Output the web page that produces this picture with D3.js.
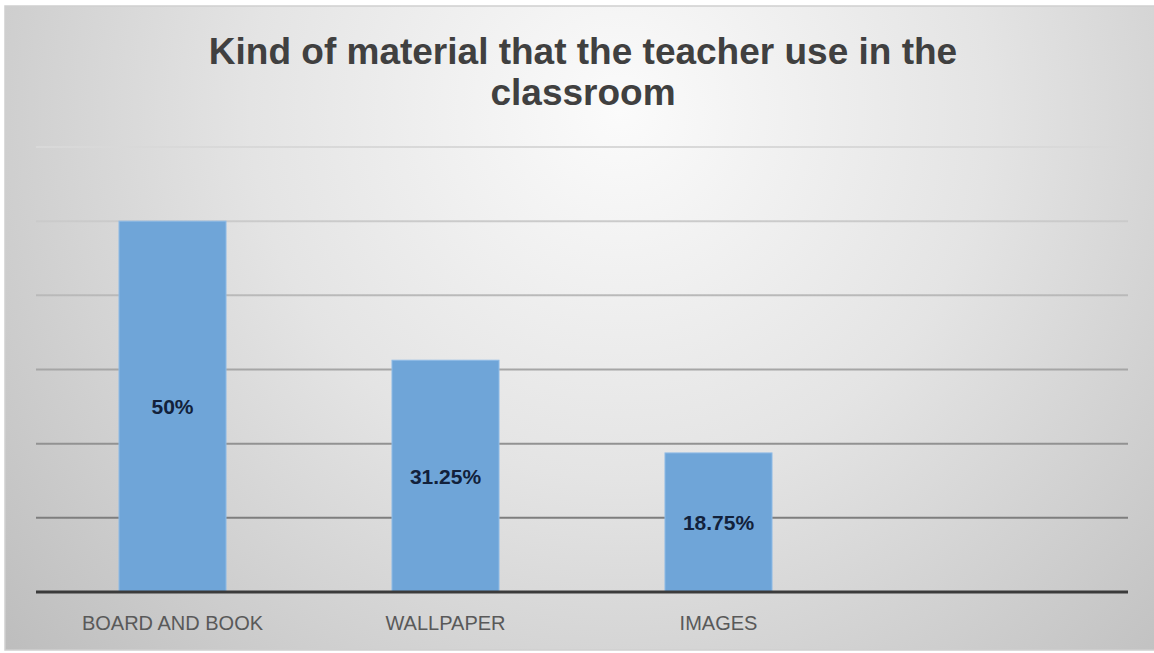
<!DOCTYPE html>
<html>
<head>
<meta charset="utf-8">
<script src="https://cdn.jsdelivr.net/npm/d3@7/dist/d3.min.js"></script>
<style>
  html, body { margin: 0; padding: 0; background: #ffffff; }
  svg { display: block; }
</style>
</head>
<body>
<svg id="chart" width="1154" height="653"></svg>
<script>
// Survey results: materials used by the teacher in class
const titleLines = ["Kind of material that the teacher use in the", "classroom"];
const categories = ["BOARD AND BOOK", "WALLPAPER", "IMAGES", ""];
const values = [50, 31.25, 18.75, null];
const valueLabels = ["50%", "31.25%", "18.75%", ""];
const gridTicks = [10, 20, 30, 40, 50, 60];

const W = 1154, H = 653;
const margin = { left: 36, right: 26, top: 147, bottom: 61 };

const svg = d3.select("#chart");
const defs = svg.append("defs");

// Soft radial shading of the chart area
const bg = defs.append("radialGradient")
  .attr("id", "bgGrad")
  .attr("gradientUnits", "userSpaceOnUse")
  .attr("cx", 620).attr("cy", 110).attr("r", 820)
  .attr("fx", 620).attr("fy", 110);
bg.append("stop").attr("offset", "0").attr("stop-color", "#fbfbfb");
bg.append("stop").attr("offset", "0.45").attr("stop-color", "#e4e4e4");
bg.append("stop").attr("offset", "1").attr("stop-color", "#bdbdbd");

// Gridlines fade toward the top
const gg = defs.append("linearGradient")
  .attr("id", "gridGrad")
  .attr("gradientUnits", "userSpaceOnUse")
  .attr("x1", 0).attr("y1", 140).attr("x2", 0).attr("y2", 525);
gg.append("stop").attr("offset", "0").attr("stop-color", "#dadada");
gg.append("stop").attr("offset", "0.3").attr("stop-color", "#c4c4c4");
gg.append("stop").attr("offset", "1").attr("stop-color", "#7c7c7c");

svg.append("rect")
  .attr("x", 5).attr("y", 6)
  .attr("width", W).attr("height", H - 9)
  .attr("fill", "url(#bgGrad)")
  .attr("stroke", "#cfcfcf").attr("stroke-width", 1.5);

const x = d3.scaleBand()
  .domain(categories)
  .range([margin.left, W - margin.right])
  .paddingInner(0.608)
  .paddingOuter(0.304);

const y = d3.scaleLinear()
  .domain([0, 60])
  .range([H - margin.bottom, margin.top]);

// Horizontal gridlines
svg.append("g")
  .selectAll("line")
  .data(gridTicks)
  .join("line")
  .attr("x1", margin.left)
  .attr("x2", W - margin.right)
  .attr("y1", d => y(d))
  .attr("y2", d => y(d))
  .attr("stroke", "url(#gridGrad)")
  .attr("stroke-width", 2);

const barData = categories.map((c, i) => ({ c, v: values[i], label: valueLabels[i] }))
  .filter(d => d.v != null);

// Bars
svg.append("g")
  .selectAll("rect")
  .data(barData)
  .join("rect")
  .attr("x", d => x(d.c))
  .attr("width", x.bandwidth())
  .attr("y", d => y(d.v))
  .attr("height", d => y(0) - y(d.v))
  .attr("fill", "#6fa5d8")
  .attr("stroke", "#8fbbe6")
  .attr("stroke-width", 1);

// Value labels at bar centres
svg.append("g")
  .selectAll("text")
  .data(barData)
  .join("text")
  .attr("x", d => x(d.c) + x.bandwidth() / 2)
  .attr("y", d => (y(d.v) + y(0)) / 2)
  .attr("dy", "0.36em")
  .attr("text-anchor", "middle")
  .attr("font-family", "Liberation Sans, Arial, sans-serif")
  .attr("font-weight", "bold")
  .attr("font-size", 21)
  .attr("fill", "#12213b")
  .text(d => d.label);

// Category axis
const xAxis = svg.append("g")
  .attr("transform", `translate(0,${y(0)})`)
  .call(d3.axisBottom(x).tickSize(0).tickPadding(24));
xAxis.select(".domain")
  .attr("d", `M${margin.left},0H${W - margin.right}`)
  .attr("stroke", "#3b3b3b")
  .attr("stroke-width", 3);
xAxis.selectAll("text")
  .attr("font-family", "Liberation Sans, Arial, sans-serif")
  .attr("font-size", 20)
  .attr("fill", "#595959")
  .attr("dy", "0.71em");

// Title
svg.append("text")
  .attr("text-anchor", "middle")
  .attr("font-family", "Liberation Sans, Arial, sans-serif")
  .attr("font-weight", "bold")
  .attr("font-size", 37)
  .attr("fill", "#404040")
  .selectAll("tspan")
  .data(titleLines)
  .join("tspan")
  .attr("x", 583)
  .attr("y", (d, i) => 64 + i * 41)
  .text(d => d);
</script>
</body>
</html>
